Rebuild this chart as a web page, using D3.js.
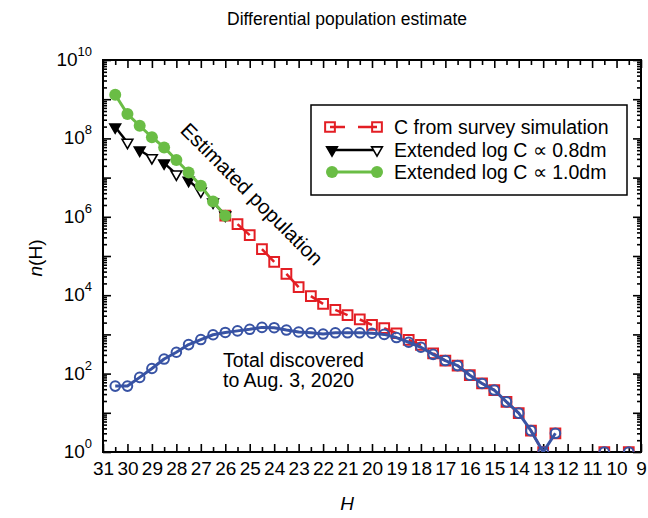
<!DOCTYPE html>
<html>
<head>
<meta charset="utf-8">
<script src="https://cdn.jsdelivr.net/npm/d3@7"></script>
<style>
  body { margin: 0; background: #fff; }
  svg { font-family: "Liberation Sans", Arial, sans-serif; }
</style>
</head>
<body>
<div id="chart"></div>
<script>
// extended population (H 30.5 .. 26)
const H_EXT = [30.5, 30, 29.5, 29, 28.5, 28, 27.5, 27, 26.5, 26];
const EXT_10 = [1.3e9, 4.2e8, 2.1e8, 1.07e8, 5.9e7, 2.8e7, 1.35e7, 6.2e6, 2.45e6, 1.07e6];
const EXT_08 = [1.95e8, 7.9e7, 5.0e7, 3.2e7, 2.35e7, 1.23e7, 8.5e6, 4.5e6, 2.35e6, 1.1e6];

// survey simulation (H 26 .. 9.5)
const H_SIM = [26, 25.5, 25, 24.5, 24, 23.5, 23, 22.5, 22, 21.5, 21, 20.5, 20, 19.5, 19, 18.5, 18,
  17.5, 17, 16.5, 16, 15.5, 15, 14.5, 14, 13.5, 13, 12.5, 12, 11.5, 11, 10.5, 10, 9.5];
const SIMULATED = [1.07e6, 6.5e5, 3.4e5, 1.5e5, 7.1e4, 3.5e4, 1.6e4, 9500, 6000, 4200, 3100, 2400, 1740,
  1450, 1070, 720, 540, 330, 215, 160, 91, 56, 38, 19, 9.8, 3.5, 1, 3, null, null, null, 1, null, 1];

// discovered to Aug. 3, 2020 (H 30.5 .. 9.5)
const H_DISC = [30.5, 30, 29.5, 29, 28.5, 28, 27.5, 27, 26.5, 26, 25.5, 25, 24.5, 24, 23.5, 23, 22.5, 22,
  21.5, 21, 20.5, 20, 19.5, 19, 18.5, 18, 17.5, 17, 16.5, 16, 15.5, 15, 14.5, 14, 13.5, 13, 12.5, 12,
  11.5, 11, 10.5, 10, 9.5];
const DISCOVERED = [48, 48, 80, 135, 235, 350, 550, 740, 980, 1120, 1230, 1350, 1510, 1480, 1290, 1150,
  1100, 1020, 1100, 1100, 1100, 1070, 1000, 830, 630, 470, 310, 215, 160, 91, 56, 38, 19, 9.8, 3.5, 1, 3,
  null, null, null, 1, null, 1];

const X_LABELS = d3.range(31, 8, -1);
const DECADES = d3.range(0, 11);
const LABELED_DECADES = [0, 2, 4, 6, 8, 10];

const RED = "#e31e24", BLUE = "#3853a4", GREEN = "#6abd45";

let width = 648, height = 518;
let margin = { left: 103, top: 60, right: 641, bottom: 452 };

let svg = d3.select("#chart").append("svg")
  .attr("width", width)
  .attr("height", height);

let x = d3.scaleLinear().domain([31, 9]).range([margin.left, margin.right]);
let y = d3.scaleLog().domain([1, 1e10]).range([margin.bottom, margin.top]);

svg.append("defs").append("clipPath").attr("id", "plot")
  .append("rect")
  .attr("x", margin.left).attr("y", margin.top)
  .attr("width", margin.right - margin.left)
  .attr("height", margin.bottom - margin.top);

// ticks
let halfTicks = d3.range(31, 8.9, -0.5);
let minorX = halfTicks.filter(d => d % 1 != 0);
let minorY = [];
DECADES.slice(0, -1).forEach(k => { for (let m = 2; m < 10; m++) minorY.push(m * Math.pow(10, k)); });

function tickAxis(axis, t) {
  let g = svg.append("g").attr("transform", t).call(axis);
  g.select(".domain").remove();
  g.selectAll("line").attr("stroke", "#000").attr("stroke-width", 1.6);
  return g;
}

let bottomAxis = tickAxis(d3.axisBottom(x).tickValues(X_LABELS).tickSize(-8).tickPadding(10)
  .tickFormat(d3.format("d")), `translate(0,${margin.bottom})`);
bottomAxis.selectAll("text").attr("font-size", 19).attr("fill", "#000")
  .attr("font-family", "Liberation Sans, Arial, sans-serif");
tickAxis(d3.axisBottom(x).tickValues(minorX).tickSize(-5).tickFormat(""), `translate(0,${margin.bottom})`);
tickAxis(d3.axisTop(x).tickValues(X_LABELS).tickSize(-8).tickFormat(""), `translate(0,${margin.top})`);
tickAxis(d3.axisTop(x).tickValues(minorX).tickSize(-5).tickFormat(""), `translate(0,${margin.top})`);

let decadeVals = DECADES.map(k => Math.pow(10, k));
tickAxis(d3.axisLeft(y).tickValues(decadeVals).tickSize(-8).tickFormat(""), `translate(${margin.left},0)`);
tickAxis(d3.axisLeft(y).tickValues(minorY).tickSize(-4).tickFormat(""), `translate(${margin.left},0)`);
tickAxis(d3.axisRight(y).tickValues(decadeVals).tickSize(-8).tickFormat(""), `translate(${margin.right},0)`);
tickAxis(d3.axisRight(y).tickValues(minorY).tickSize(-4).tickFormat(""), `translate(${margin.right},0)`);

// y labels 10^k
let yl = svg.append("g").selectAll("text")
  .data(LABELED_DECADES)
  .join("text")
  .attr("x", 92)
  .attr("y", d => y(Math.pow(10, d)) + 6)
  .attr("text-anchor", "end")
  .attr("font-size", 19);
yl.append("tspan").text("10");
yl.append("tspan").attr("font-size", 13).attr("dy", -10).text(d => d);

// frame
svg.append("rect")
  .attr("x", margin.left).attr("y", margin.top)
  .attr("width", margin.right - margin.left)
  .attr("height", margin.bottom - margin.top)
  .attr("fill", "none").attr("stroke", "#000").attr("stroke-width", 2);

// data layers
let plot = svg.append("g").attr("clip-path", "url(#plot)");

function toPts(hs, vs) { return hs.map((h, i) => ({ h: h, v: vs[i], i: i })); }

let line = d3.line().defined(d => d.v != null).x(d => x(d.h)).y(d => y(d.v));

// draw every other segment (pairs), like the original dashes
function pairSegments(pts, startOdd) {
  let segs = [];
  for (let i = startOdd ? 1 : 0; i < pts.length - 1; i += 2) {
    if (pts[i].v != null && pts[i + 1].v != null) segs.push([pts[i], pts[i + 1]]);
  }
  return segs;
}

let simPts = toPts(H_SIM, SIMULATED);
let discPts = toPts(H_DISC, DISCOVERED);
let ext08Pts = toPts(H_EXT, EXT_08);
let ext10Pts = toPts(H_EXT, EXT_10);

let squareSym = d3.symbol().type(d3.symbolSquare).size(95);
let triSym = d3.symbol().type(d3.symbolTriangle).size(50);

// red: survey simulation
plot.append("g").selectAll("path")
  .data(pairSegments(simPts, true))
  .join("path")
  .attr("d", line)
  .attr("fill", "none").attr("stroke", RED).attr("stroke-width", 2.5);
plot.append("g").selectAll("path")
  .data(simPts.filter(d => d.v != null))
  .join("path")
  .attr("d", squareSym)
  .attr("transform", d => `translate(${x(d.h)},${y(d.v)})`)
  .attr("fill", "none").attr("stroke", RED).attr("stroke-width", 2);

// blue: discovered
plot.append("path")
  .datum(discPts)
  .attr("d", line)
  .attr("fill", "none").attr("stroke", BLUE).attr("stroke-width", 3)
  .attr("stroke-linejoin", "round");
plot.append("g").selectAll("circle")
  .data(discPts.filter(d => d.v != null))
  .join("circle")
  .attr("cx", d => x(d.h)).attr("cy", d => y(d.v)).attr("r", 4.8)
  .attr("fill", "none").attr("stroke", BLUE).attr("stroke-width", 2);

// black: extended 0.8dm
plot.append("g").selectAll("path")
  .data(pairSegments(ext08Pts, false))
  .join("path")
  .attr("d", line)
  .attr("fill", "none").attr("stroke", "#000").attr("stroke-width", 2.5);
plot.append("g").selectAll("path")
  .data(ext08Pts)
  .join("path")
  .attr("d", triSym)
  .attr("transform", d => `translate(${x(d.h)},${y(d.v)}) rotate(180)`)
  .attr("fill", d => d.i % 2 == 0 ? "#000" : "#fff").attr("stroke", "#000").attr("stroke-width", 1.6);

// green: extended 1.0dm
plot.append("path")
  .datum(ext10Pts)
  .attr("d", line)
  .attr("fill", "none").attr("stroke", GREEN).attr("stroke-width", 3);
plot.append("g").selectAll("circle")
  .data(ext10Pts)
  .join("circle")
  .attr("cx", d => x(d.h)).attr("cy", d => y(d.v)).attr("r", 6)
  .attr("fill", GREEN);

// legend
let lg = svg.append("g");
lg.append("rect").attr("x", 311).attr("y", 105).attr("width", 316).attr("height", 90)
  .attr("fill", "#fff").attr("stroke", "#000").attr("stroke-width", 1.5);

let rows = [127, 150, 172];
lg.append("line").attr("x1", 330).attr("x2", 377).attr("y1", rows[0]).attr("y2", rows[0])
  .attr("stroke", RED).attr("stroke-width", 2.5).attr("stroke-dasharray", "15,13,20");
[330, 377].forEach(px => lg.append("path").attr("d", squareSym)
  .attr("transform", `translate(${px},${rows[0]})`)
  .attr("fill", "none").attr("stroke", RED).attr("stroke-width", 2));

lg.append("line").attr("x1", 332).attr("x2", 377).attr("y1", rows[1]).attr("y2", rows[1])
  .attr("stroke", "#000").attr("stroke-width", 2.5);
[[332, "#000"], [377, "#fff"]].forEach(p => lg.append("path").attr("d", triSym)
  .attr("transform", `translate(${p[0]},${rows[1]}) rotate(180)`)
  .attr("fill", p[1]).attr("stroke", "#000").attr("stroke-width", 1.6));

lg.append("line").attr("x1", 332).attr("x2", 377).attr("y1", rows[2]).attr("y2", rows[2])
  .attr("stroke", GREEN).attr("stroke-width", 3);
[332, 377].forEach(px => lg.append("circle").attr("cx", px).attr("cy", rows[2]).attr("r", 6)
  .attr("fill", GREEN));

["C from survey simulation", "Extended log C \u221d 0.8dm", "Extended log C \u221d 1.0dm"].forEach((t, i) => {
  lg.append("text").attr("x", 394).attr("y", rows[i] + 7).attr("font-size", 19.5).text(t);
});

// annotations
svg.append("text")
  .attr("transform", "translate(252,194) rotate(45)")
  .attr("text-anchor", "middle").attr("dy", "0.35em")
  .attr("font-size", 20.5)
  .text("Estimated population");

let note = svg.append("text").attr("font-size", 19.5);
note.append("tspan").attr("x", 223).attr("y", 367).text("Total discovered");
note.append("tspan").attr("x", 223).attr("y", 387).text("to Aug. 3, 2020");

// titles
svg.append("text").attr("x", 347).attr("y", 25).attr("text-anchor", "middle")
  .attr("font-size", 17.5).text("Differential population estimate");

svg.append("text").attr("x", 347).attr("y", 510).attr("text-anchor", "middle")
  .attr("font-size", 19).attr("font-style", "italic").text("H");

let yt = svg.append("text")
  .attr("transform", "translate(42,258) rotate(-90)")
  .attr("text-anchor", "middle").attr("font-size", 19);
yt.append("tspan").attr("font-style", "italic").text("n");
yt.append("tspan").text("(H)");
</script>
</body>
</html>
